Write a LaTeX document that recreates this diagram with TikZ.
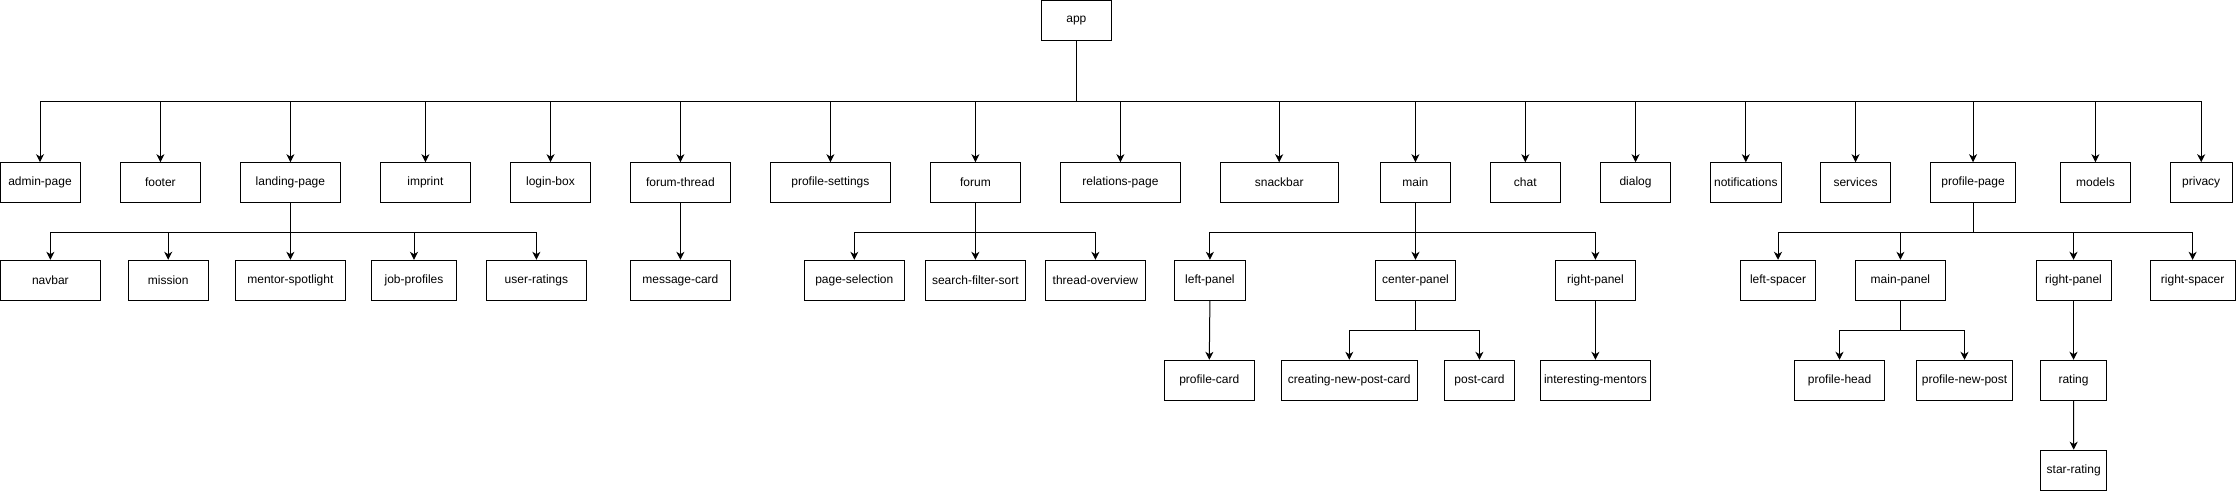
\documentclass[tikz,border=0pt]{standalone}
\usepackage{fontspec}
\setmainfont{Liberation Sans}
\usetikzlibrary{arrows.meta}

\begin{document}
\begin{tikzpicture}[x=0.75pt,y=0.75pt]
        \tikzstyle{comp}=[draw, line width=0.75pt, minimum height=30pt, inner sep=0pt, font=\fontsize{9}{11}\selectfont]
        \tikzstyle{link}=[line width=0.75pt, -{Stealth[length=6pt,width=6pt,inset=1.8pt]}]
        \useasboundingbox (0,0) rectangle (2236,-491);
        % root
        \node[comp, minimum width=52.5pt] (app) at (1076.4,-20.3) {app};
        % first level
        \node[comp, minimum width=60pt] (admin) at (40,-182.7) {admin-page};
        \node[comp, minimum width=60pt] (footer) at (160.4,-182.7) {footer};
        \node[comp, minimum width=75pt] (landing) at (290.4,-182.7) {landing-page};
        \node[comp, minimum width=67.5pt] (imprint) at (425.4,-182.7) {imprint};
        \node[comp, minimum width=60pt] (login) at (550.5,-182.7) {login-box};
        \node[comp, minimum width=75pt] (fthread) at (680.4,-182.7) {forum-thread};
        \node[comp, minimum width=90pt] (psettings) at (830.4,-182.7) {profile-settings};
        \node[comp, minimum width=67.5pt] (forum) at (975.4,-182.7) {forum};
        \node[comp, minimum width=90pt] (relations) at (1120.4,-182.7) {relations-page};
        \node[comp, minimum width=88.5pt] (snackbar) at (1279.2,-182.7) {snackbar};
        \node[comp, minimum width=52.5pt] (main) at (1415.4,-182.7) {main};
        \node[comp, minimum width=52.5pt] (chat) at (1525.3,-182.7) {chat};
        \node[comp, minimum width=52.5pt] (dialog) at (1635.5,-182.7) {dialog};
        \node[comp, minimum width=53.25pt] (notif) at (1745.8,-182.7) {notifications};
        \node[comp, minimum width=52.5pt] (services) at (1855.5,-182.7) {services};
        \node[comp, minimum width=63.75pt] (ppage) at (1973,-182.7) {profile-page};
        \node[comp, minimum width=52.5pt] (models) at (2095.4,-182.7) {models};
        \node[comp, minimum width=46.5pt] (privacy) at (2201.2,-182.7) {privacy};
        % second level
        \node[comp, minimum width=75pt] (navbar) at (50.4,-280.3) {navbar};
        \node[comp, minimum width=60pt] (mission) at (168.2,-280.3) {mission};
        \node[comp, minimum width=82.5pt] (mentor) at (290.4,-280.3) {mentor-spotlight};
        \node[comp, minimum width=63.75pt] (jobprof) at (414,-280.3) {job-profiles};
        \node[comp, minimum width=75pt] (ratings) at (536.4,-280.3) {user-ratings};
        \node[comp, minimum width=75pt] (msgcard) at (680.4,-280.3) {message-card};
        \node[comp, minimum width=75pt] (pagesel) at (854.3,-280.3) {page-selection};
        \node[comp, minimum width=75pt] (search) at (975.4,-280.3) {search-filter-sort};
        \node[comp, minimum width=75pt] (overview) at (1095.4,-280.3) {thread-overview};
        \node[comp, minimum width=53.25pt] (mleft) at (1209.9,-280.3) {left-panel};
        \node[comp, minimum width=60pt] (mcenter) at (1415.5,-280.3) {center-panel};
        \node[comp, minimum width=60pt] (mright) at (1595.4,-280.3) {right-panel};
        \node[comp, minimum width=56.25pt] (lspacer) at (1778,-280.3) {left-spacer};
        \node[comp, minimum width=67.5pt] (mpanel) at (1900.4,-280.3) {main-panel};
        \node[comp, minimum width=56.25pt] (pright) at (2073.5,-280.3) {right-panel};
        \node[comp, minimum width=63.75pt] (rspacer) at (2192.6,-280.3) {right-spacer};
        % third level
        \node[comp, minimum width=67.5pt] (pcard) at (1209.3,-380.3) {profile-card};
        \node[comp, minimum width=102pt] (newpost) at (1349.3,-380.3) {creating-new-post-card};
        \node[comp, minimum width=52.5pt] (postcard) at (1479.4,-380.3) {post-card};
        \node[comp, minimum width=82.5pt] (mentors) at (1595.4,-380.3) {interesting-mentors};
        \node[comp, minimum width=67.5pt] (phead) at (1839.5,-380.3) {profile-head};
        \node[comp, minimum width=72pt] (pnewpost) at (1964.5,-380.3) {profile-new-post};
        \node[comp, minimum width=49.5pt] (rating) at (2073.5,-380.3) {rating};
        \node[comp, minimum width=49.5pt] (star) at (2073.7,-470.2) {star-rating};
        % connectors
        \foreach \c in {admin,footer,landing,imprint,login,fthread,psettings,forum,relations,snackbar,main,chat,dialog,notif,services,ppage,models,privacy}
          \draw[link] (app.south) -- ++(0,-61) -| (\c.north);
        \foreach \c in {navbar,mission,mentor,jobprof,ratings}
          \draw[link] (landing.south) -- ++(0,-29) -| (\c.north);
        \draw[link] (fthread.south) -- (msgcard.north);
        \foreach \c in {pagesel,search,overview}
          \draw[link] (forum.south) -- ++(0,-29) -| (\c.north);
        \foreach \c in {mleft,mcenter,mright}
          \draw[link] (main.south) -- ++(0,-29) -| (\c.north);
        \foreach \c in {lspacer,mpanel,pright,rspacer}
          \draw[link] (ppage.south) -- ++(0,-29) -| (\c.north);
        \draw[link] (mleft.south) -- (pcard.north);
        \foreach \c in {newpost,postcard}
          \draw[link] (mcenter.south) -- ++(0,-30) -| (\c.north);
        \draw[link] (mright.south) -- (mentors.north);
        \foreach \c in {phead,pnewpost}
          \draw[link] (mpanel.south) -- ++(0,-30) -| (\c.north);
        \draw[link] (pright.south) -- (rating.north);
        \draw[link] (rating.south) -- (star.north);
\end{tikzpicture}
\end{document}
